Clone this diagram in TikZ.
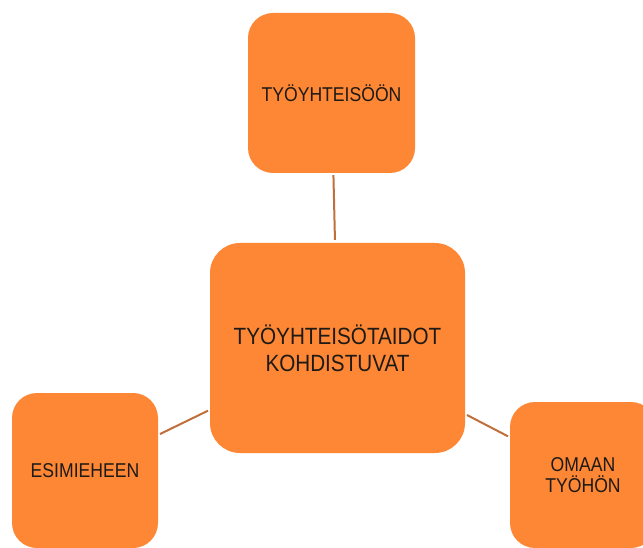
\documentclass[tikz,border=0pt]{standalone}
\usepackage{fontspec}
\newfontfamily\labfont[FakeStretch=0.88]{Liberation Sans}
\definecolor{boxfill}{HTML}{FD8735}
\definecolor{linkcol}{HTML}{C06E3A}
\definecolor{txtcol}{HTML}{1E1A16}
\begin{document}
\begin{tikzpicture}[x=1pt,y=-1pt,
  boxsmall/.style={draw=none, fill=boxfill, rounded corners=25pt, align=center,
    text=txtcol, font=\labfont\fontsize{20}{21}\selectfont, inner sep=0pt},
  boxbig/.style={draw=none, fill=boxfill, rounded corners=30pt, align=center,
    text=txtcol, font=\labfont\fontsize{23.5}{27}\selectfont, inner sep=0pt},
  link/.style={draw=linkcol, line width=2pt}]
\useasboundingbox (0,0) rectangle (643,548);
\node[boxbig, minimum width=255pt, minimum height=210pt] (hub) at (337.5,348) {TYÖYHTEISÖTAIDOT\\KOHDISTUVAT};
\node[boxsmall, minimum width=167pt, minimum height=160pt] (top) at (331.5,93) {TYÖYHTEISÖÖN};
\node[boxsmall, minimum width=146pt, minimum height=155pt] (left) at (85,470.5) {ESIMIEHEEN};
\node[boxsmall, minimum width=146pt, minimum height=146pt] (right) at (583,475) {OMAAN\\TYÖHÖN};
\draw[link, shorten <=2pt, shorten >=3pt] (top) -- (hub);
\draw[link, shorten <=2pt, shorten >=2pt] (left) -- (hub);
\draw[link, shorten <=2pt, shorten >=2pt] (hub) -- (right);
\end{tikzpicture}
\end{document}
